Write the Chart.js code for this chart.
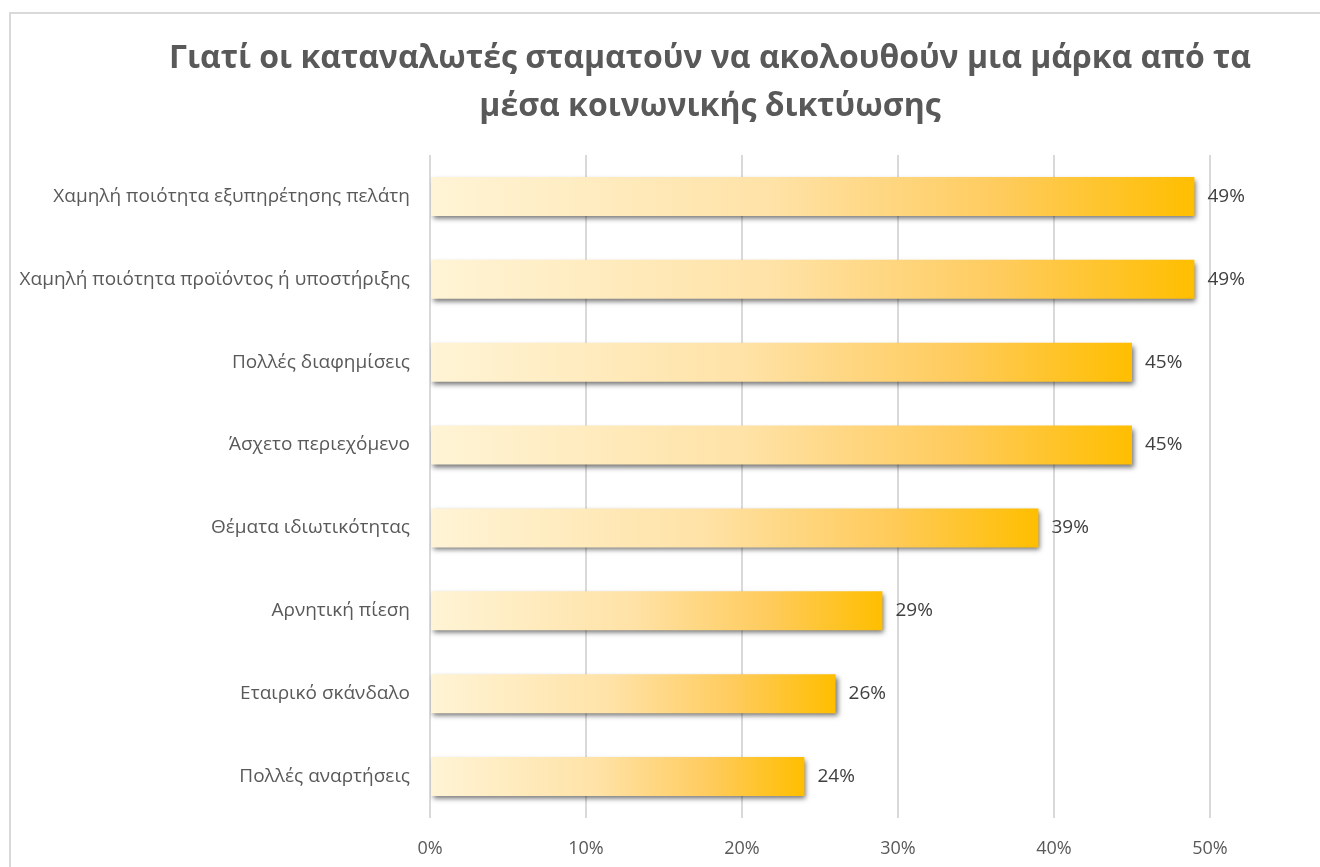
<!DOCTYPE html>
<html lang="el">
<head>
<meta charset="utf-8">
<title>Λόγοι διακοπής ακολούθησης</title>
<script src="https://cdn.jsdelivr.net/npm/chart.js@4/dist/chart.umd.min.js"></script>
<style>
  html, body { margin: 0; padding: 0; background: #fff; overflow: hidden; }
  #frame {
    position: absolute; left: 9px; top: 12px;
    width: 1309px; height: 853px;
    overflow: hidden;
    border-top: 2px solid #d9d9d9;
    border-left: 2px solid #d9d9d9;
    background: #fff;
  }
  canvas { display: block; }
</style>
</head>
<body>
<div id="frame"><canvas id="reasonsChart" width="1398" height="900"></canvas></div>
<script>
// Δεδομένα του γραφήματος
const titleLines = [
    'Γιατί οι καταναλωτές σταματούν να ακολουθούν μια μάρκα από τα',
    'μέσα κοινωνικής δικτύωσης'
];
const reasons = [
    'Χαμηλή ποιότητα εξυπηρέτησης πελάτη',
    'Χαμηλή ποιότητα προϊόντος ή υποστήριξης',
    'Πολλές διαφημίσεις',
    'Άσχετο περιεχόμενο',
    'Θέματα ιδιωτικότητας',
    'Αρνητική πίεση',
    'Εταιρικό σκάνδαλο',
    'Πολλές αναρτήσεις'
];
const percentages = [49, 49, 45, 45, 39, 29, 26, 24];
const axisTicks = [0, 10, 20, 30, 40, 50];

const textGrey = '#595959';
const fontFamily = '"Open Sans", "Noto Sans", sans-serif';

document.addEventListener("DOMContentLoaded", function () {
    const ctx = document.getElementById('reasonsChart').getContext('2d');

    // Verlauf pro Balken: hell links, kräftiges Orange am Balkenende
    function barGradient(context) {
        const chart = context.chart;
        if (!chart.chartArea || context.raw === undefined) return '#FFC000';
        const x0 = chart.scales.x.getPixelForValue(0);
        const x1 = chart.scales.x.getPixelForValue(context.raw);
        const g = chart.ctx.createLinearGradient(x0, 0, x1, 0);
        g.addColorStop(0, '#FFF4D6');
        g.addColorStop(0.45, '#FFE2A6');
        g.addColorStop(0.75, '#FFCB5C');
        g.addColorStop(1, '#FFBE00');
        return g;
    }

    // Schatten unter den Balken
    const barShadow = {
        id: 'barShadow',
        beforeDatasetDraw(chart) {
            const c = chart.ctx;
            c.save();
            c.shadowColor = 'rgba(0, 0, 0, 0.55)';
            c.shadowBlur = 5;
            c.shadowOffsetX = 2;
            c.shadowOffsetY = 3;
        },
        afterDatasetDraw(chart) {
            chart.ctx.restore();
        }
    };

    // Prozentwerte rechts neben den Balken
    const valueLabels = {
        id: 'valueLabels',
        afterDatasetsDraw(chart) {
            const c = chart.ctx;
            const meta = chart.getDatasetMeta(0);
            c.save();
            c.font = '19px ' + fontFamily;
            c.fillStyle = '#404040';
            c.textAlign = 'left';
            c.textBaseline = 'middle';
            meta.data.forEach((bar, i) => {
                c.fillText(percentages[i] + '%', bar.x + 13, bar.y);
            });
            c.restore();
        }
    };

    // Zweizeiliger Titel, zentriert über die ganze Fläche
    const centeredTitle = {
        id: 'centeredTitle',
        afterDraw(chart) {
            const c = chart.ctx;
            c.save();
            c.font = 'bold 32px ' + fontFamily;
            c.fillStyle = textGrey;
            c.textAlign = 'center';
            c.textBaseline = 'middle';
            titleLines.forEach((line, i) => {
                c.fillText(line, chart.width / 2, 45 + i * 48);
            });
            c.restore();
        }
    };

    new Chart(ctx, {
        type: 'bar',
        data: {
            labels: reasons,
            datasets: [{
                data: percentages,
                backgroundColor: barGradient,
                borderWidth: 0,
                barPercentage: 0.47,
                categoryPercentage: 1
            }]
        },
        plugins: [barShadow, valueLabels, centeredTitle],
        options: {
            indexAxis: 'y',
            responsive: false,
            animation: false,
            layout: { padding: { top: 141, right: 199, bottom: 36, left: 0 } },
            plugins: {
                legend: { display: false },
                title: { display: false },
                tooltip: { enabled: false }
            },
            scales: {
                x: {
                    min: 0,
                    max: 50,
                    afterBuildTicks(scale) {
                        scale.ticks = axisTicks.map(v => ({ value: v }));
                    },
                    afterFit(scale) { scale.height = 60; },
                    grid: { color: '#d9d9d9', lineWidth: 2, drawTicks: false },
                    border: { display: false },
                    ticks: {
                        padding: 20,
                        color: textGrey,
                        font: { family: fontFamily, size: 18 },
                        callback: v => v + '%'
                    }
                },
                y: {
                    afterFit(scale) { scale.width = 419; },
                    grid: { display: false, drawTicks: false },
                    border: { display: false },
                    ticks: {
                        padding: 20,
                        color: textGrey,
                        font: { family: fontFamily, size: 19 }
                    }
                }
            }
        }
    });
});
</script>
</body>
</html>
